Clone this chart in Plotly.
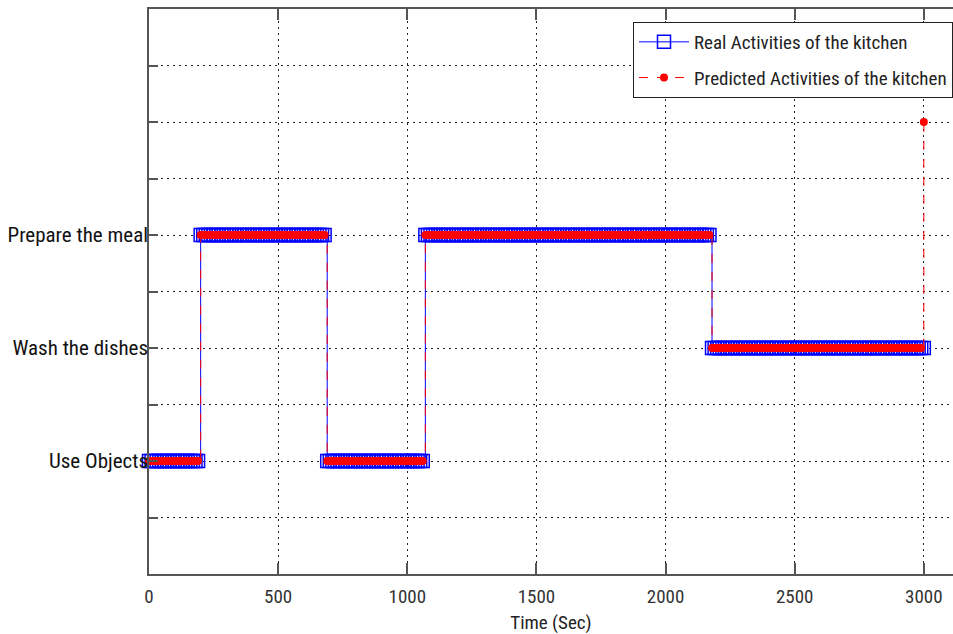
import numpy as np
import plotly.graph_objects as go

# Activity codes on the y axis
activity_codes = [2, 4, 6]
activity_labels = ["Use Objects", "Wash the dishes", "Prepare the meal"]

# Real activity segments (seconds)
seg_start = [0, 200, 690, 1065, 2175]
seg_end = [200, 690, 1065, 2175, 3000]
seg_activity = [2, 6, 2, 6, 4]

# Prediction differs only at the final instant
pred_final_time = 3000
pred_final_value = 8

sample_step = 10  # sampling period of the recorded activity (s)

t = np.arange(0, 3000 + sample_step, sample_step)
real = np.zeros_like(t, dtype=float)
for s, e, a in zip(seg_start, seg_end, seg_activity):
    real[(t >= s) & (t <= e)] = a
pred = real.copy()
pred[t == pred_final_time] = pred_final_value

x_ticks = [0, 500, 1000, 1500, 2000, 2500, 3000]
y_ticks = list(range(0, 11))
y_text = [activity_labels[activity_codes.index(v)] if v in activity_codes else "" for v in y_ticks]

font = "Liberation Sans Narrow, Arial Narrow, Roboto Condensed, Liberation Sans, sans-serif"

fig = go.Figure()
fig.add_trace(go.Scatter(
    x=t, y=real, mode="lines+markers", name="Real Activities of the kitchen",
    legendgroup="real", cliponaxis=False,
    line=dict(color="#0000ff", width=1, shape="hv"),
    marker=dict(symbol="square-open", size=13, color="#0000ff", line=dict(width=1.5, color="#0000ff")),
))
fig.add_trace(go.Scatter(
    x=t, y=pred, mode="lines+markers", name="Predicted Activities of the kitchen",
    legendgroup="pred", cliponaxis=False,
    line=dict(color="#ff0000", width=1, dash="dash", shape="hv"),
    marker=dict(symbol="circle", size=8, color="#ff0000", line=dict(width=0)),
))

grid_common = dict(
    showgrid=True, gridcolor="#222222", griddash="2px,4px", gridwidth=1,
    zeroline=False,
)

fig.update_xaxes(
    range=[0, 3113], tickvals=x_ticks, ticktext=[str(v) for v in x_ticks],
    showline=True, mirror="ticks", linecolor="#555555", linewidth=1.5,
    ticks="inside", ticklen=11, tickcolor="#555555", tickwidth=1.5,
    ticklabelstandoff=4, automargin=False,
    title=dict(text="Time (Sec)", font=dict(size=19, color="#222222"), standoff=10),
    tickfont=dict(size=19, color="#333333"),
    **grid_common,
)
fig.update_yaxes(
    range=[0, 10], tickvals=y_ticks, ticktext=y_text,
    showline=True, mirror=False, linecolor="#555555", linewidth=1.5,
    ticks="inside", ticklen=9, tickcolor="#555555", tickwidth=1.5,
    ticklabelstandoff=-5, automargin=False,
    tickfont=dict(size=21, color="#111111"),
    **grid_common,
)

fig.update_layout(
    width=953, height=634,
    margin=dict(l=149, r=0, t=9, b=60, autoexpand=False),
    plot_bgcolor="white", paper_bgcolor="white",
    font=dict(family=font, size=19, color="#222222"),
    showlegend=True,
    legend=dict(
        x=1.0, y=0.977, xanchor="right", yanchor="top",
        bgcolor="white", bordercolor="#222222", borderwidth=1,
        font=dict(size=19, color="#222222"),
        traceorder="grouped", tracegroupgap=8, itemwidth=50,
    ),
)

fig.write_html("out.html")
